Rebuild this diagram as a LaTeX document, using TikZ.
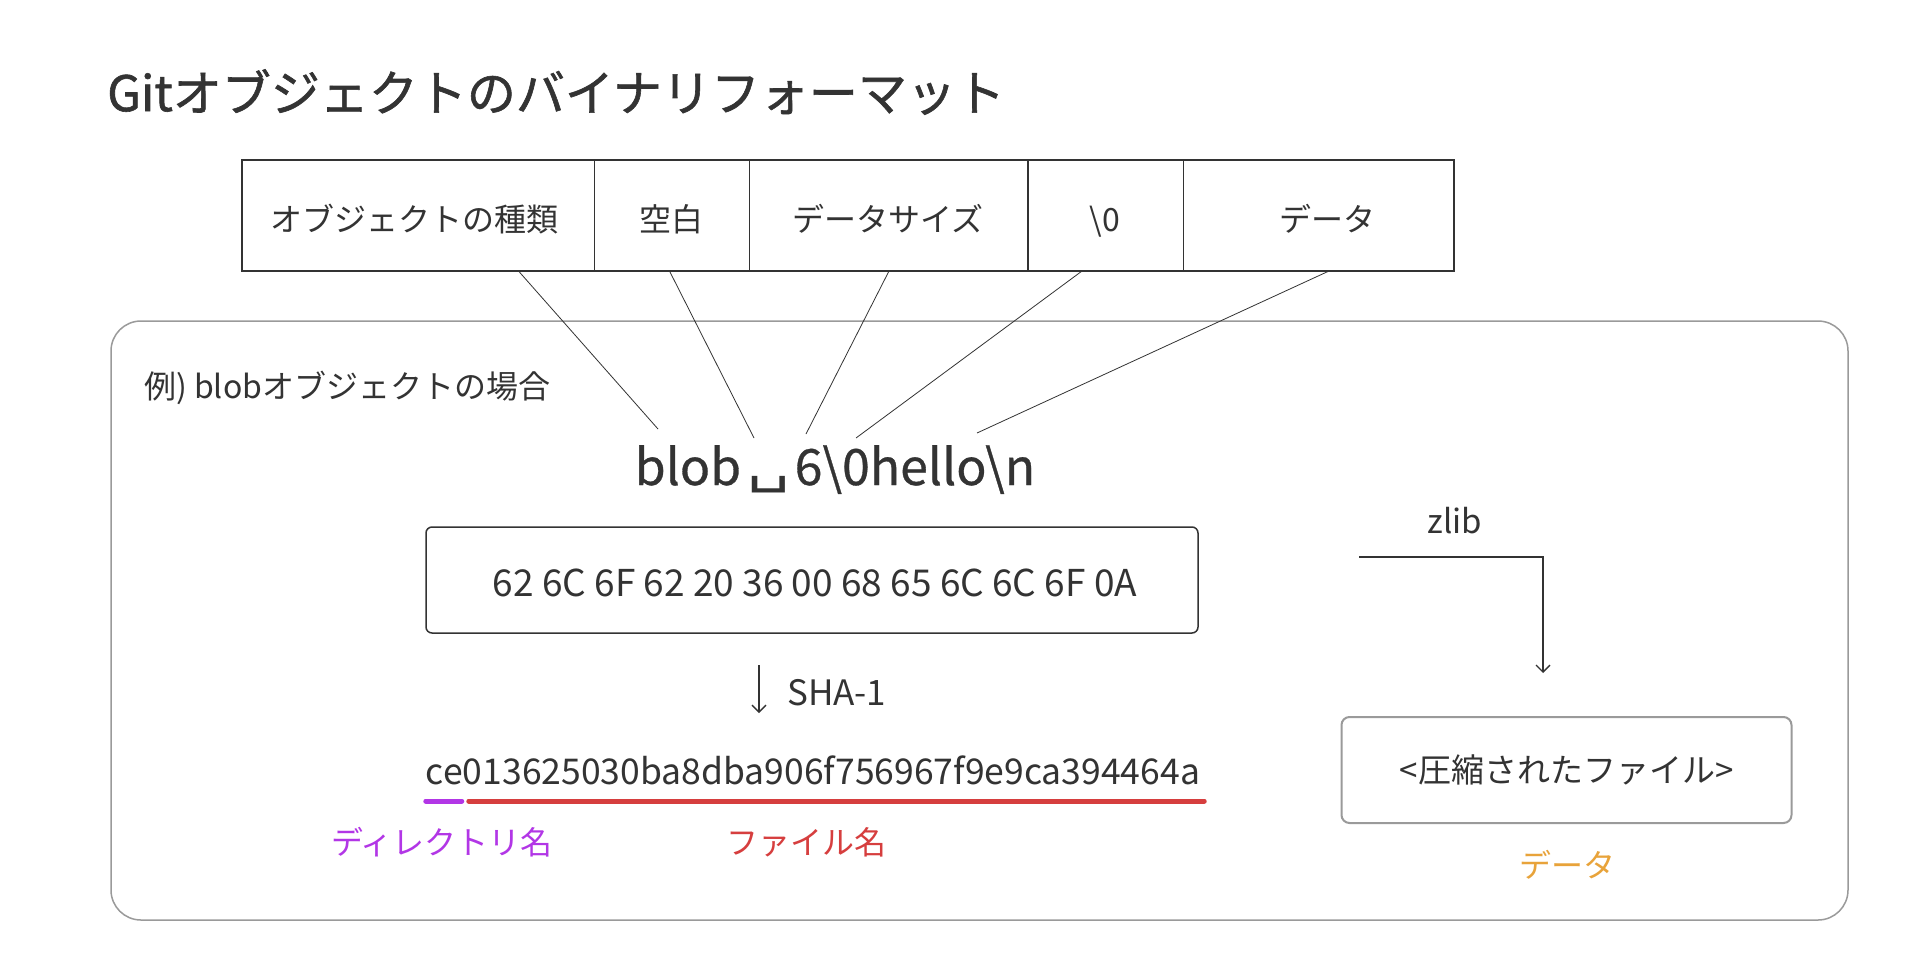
\documentclass[tikz,border=0pt]{standalone}
\usepackage{fontspec}
\usepackage{graphicx}
\setmainfont{Noto Sans CJK JP}
\newfontfamily\symfont{DejaVu Sans}
\usetikzlibrary{arrows.meta}
\definecolor{ink}{HTML}{333333}
\definecolor{boxgray}{HTML}{9A9A9A}
\definecolor{dirpurple}{HTML}{B236E6}
\definecolor{filered}{HTML}{D63E3E}
\definecolor{dataorange}{HTML}{E8A33A}
\newcommand{\myfs}[1]{\fontsize{#1}{#1}\selectfont}
\tikzset{
  txt/.style={inner sep=0pt, text=ink},
  cell/.style={draw=ink, line width=1pt, minimum height=110, inner sep=0pt, text=ink, font=\myfs{32}, text height=38pt, text depth=6pt},
  conn/.style={draw=ink, line width=0.8pt},
  arr/.style={draw=ink, line width=1.3pt, -{Straight Barb[length=7pt,width=14pt]}},
  bar/.style={line width=5pt, line cap=round},
}
\begin{document}
\begin{tikzpicture}[x=1pt,y=-1pt]
\useasboundingbox[fill=white] (0,0) rectangle (1920,962);

% title
\node[txt, anchor=west] (title) at (107,92) {\myfs{49}\addfontfeature{FakeBold=1.2}Gitオブジェクトのバイナリフォーマット};

% outer example frame
\node[draw=boxgray, line width=1.5pt, rounded corners=30, minimum width=1737, minimum height=599, inner sep=0pt] (ex) at (979.5,620.5) {};

% format table
\node[cell, minimum width=352] (c1) at (418,215.5) {\hspace*{-8pt}オブジェクトの種類};
\node[cell, minimum width=155] (c2) at (671.5,215.5) {空白};
\node[cell, minimum width=278] (c3) at (888,215.5) {データサイズ};
\node[cell, minimum width=156] (c4) at (1105,215.5) {\textbackslash 0};
\node[cell, minimum width=270] (c5) at (1318,215.5) {\hspace*{18pt}データ};
\draw[draw=ink, line width=2pt] (c1.north west) rectangle (c5.south east);
\draw[draw=ink, line width=2pt] (c3.north east) -- (c3.south east);

% example label
\node[txt, anchor=west] (exlabel) at (144,388) {\myfs{32}例) blobオブジェクトの場合};

% blob string
\node[txt, anchor=base] (blob) at (835,485) {\myfs{50}\addfontfeature{FakeBold=0.6}blob\hspace{6pt}{\symfont\addfontfeature{FakeBold=0}\fontsize{56}{56}\selectfont\raisebox{4pt}{\scalebox{1.2}[0.9]{␣}}}\hspace{5pt}6\textbackslash 0hello\textbackslash n};

\coordinate (e1) at (658,429);
\coordinate (e2) at (754,438);
\coordinate (e3) at (806,434);
\coordinate (e4) at (856,438);
\coordinate (e5) at (977,433);
\draw[conn] ([xshift=-76pt]c1.south east) -- (e1);
\draw[conn] ([xshift=-2pt]c2.south) -- (e2);
\draw[conn] ([xshift=1pt]c3.south) -- (e3);
\draw[conn] ([xshift=-23pt]c4.south) -- (e4);
\draw[conn] ([xshift=11pt]c5.south) -- (e5);

% hex box
\node[draw=ink, line width=1.5pt, rounded corners=6, minimum width=772, minimum height=106, inner sep=0pt] (hexbox) at (812,580) {};
\node[txt, anchor=base] (hex) at (815,596) {\myfs{37}62 6C 6F 62 20 36 00 68 65 6C 6C 6F 0A};

% SHA-1
\coordinate (sa) at (759,665);
\coordinate (sb) at (759,713);
\draw[arr] (sa) -- (sb);
\node[txt, anchor=base west] (sha) at (787,705) {\myfs{35}SHA-1};

% hash
\node[txt, anchor=base] (hash) at (813,784) {\myfs{35.5}ce013625030ba8dba906f756967f9e9ca394464a};
\draw[bar, dirpurple] ([xshift=0pt,yshift=-17pt]hash.base west) -- ++(36,0);
\draw[bar, filered] ([xshift=43pt,yshift=-17pt]hash.base west) -- ([xshift=4pt,yshift=-17pt]hash.base east);
\node[txt, text=dirpurple, anchor=center] (dirname) at (442,842) {\myfs{32}ディレクトリ名};
\node[txt, text=filered, anchor=center] (filename) at (806,842) {\myfs{32}ファイル名};

% zlib
\node[txt, anchor=base] (zlib) at (1455,533) {\myfs{33}zlib};
\coordinate (zs) at (1359,557);
\coordinate (ze) at (1543,673);
\draw[arr] (zs) -| (ze);

\node[draw=boxgray, line width=2pt, rounded corners=8, minimum width=450, minimum height=106, inner sep=0pt, text=ink] (cbox) at (1566.5,770) {\myfs{33}<圧縮されたファイル>};
\node[txt, text=dataorange] (cdata) at (1567,865) {\myfs{32}データ};
\end{tikzpicture}
\end{document}
